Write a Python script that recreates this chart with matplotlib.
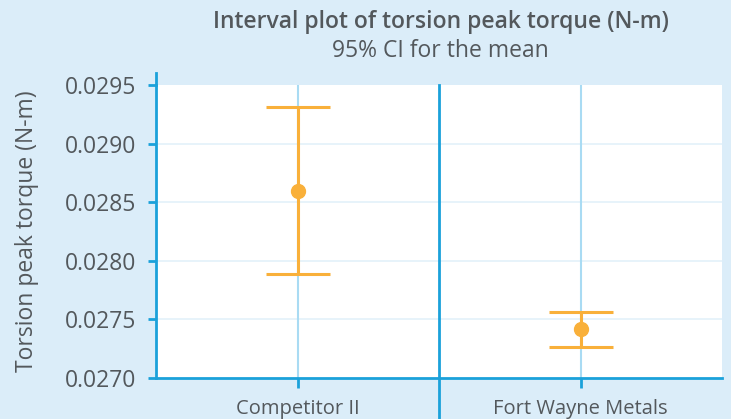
import numpy as np
import matplotlib.pyplot as plt

categories = ["Competitor II", "Fort Wayne Metals"]
means = [0.028596, 0.027418]
upper = [0.029312, 0.027563]
lower = [0.027887, 0.027265]
yticks = [0.0270, 0.0275, 0.0280, 0.0285, 0.0290, 0.0295]

bg = "#dbedf9"
spine = "#1ba1da"
orange = "#f9b03a"
text_col = "#53585c"

plt.rcParams['font.family'] = ['Open Sans', 'DejaVu Sans']

fig = plt.figure(figsize=(7.31, 4.19), dpi=100, facecolor=bg)
ax = fig.add_axes([156 / 731, 41 / 419, 566 / 731, 293 / 419])
ax.set_facecolor("white")

x = np.arange(len(categories))
m = np.array(means)
err = [m - np.array(lower), np.array(upper) - m]

# light grid
for yt in yticks[1:-1]:
    ax.axhline(yt, color="#e3f1fa", lw=1.2, zorder=0)
for xi in x:
    ax.axvline(xi, color="#a9dbf3", lw=1.5, zorder=0)

ax.errorbar(x, m, yerr=err, fmt="o", color=orange, ecolor=orange,
            elinewidth=2.2, capsize=23, capthick=2.2, markersize=10, zorder=3)

ax.set_xlim(-0.5, 1.5)
ax.set_ylim(0.0270, 0.0295)
ax.set_yticks(yticks)
ax.set_yticklabels([f"{v:.4f}" for v in yticks])
ax.set_xticks(x)
ax.set_xticklabels(categories)

for s in ["top", "right"]:
    ax.spines[s].set_visible(False)
for s in ["left", "bottom"]:
    ax.spines[s].set_color(spine)
    ax.spines[s].set_linewidth(2)

ax.tick_params(axis="y", colors=spine, length=6, width=2, labelsize=16.5,
               labelcolor=text_col, pad=8)
ax.tick_params(axis="x", colors=spine, length=7, width=2, labelsize=14.5,
               labelcolor=text_col, pad=8)

# spine extension above the plot and the group divider
ax.plot([-0.5, -0.5], [1.0, 1.04], transform=ax.get_xaxis_transform(),
        color=spine, lw=2, clip_on=False)
ax.plot([0.5, 0.5], [-0.15, 1.0], transform=ax.get_xaxis_transform(),
        color=spine, lw=2, clip_on=False, zorder=4)

ax.set_ylabel("Torsion peak torque (N-m)", fontsize=16.5, color=text_col,
              labelpad=19)

fig.text(0.603, 0.947, "Interval plot of torsion peak torque (N-m)", ha="center",
         va="center", fontsize=16.5, fontweight="semibold", color=text_col)
fig.text(0.603, 0.879, "95% CI for the mean", ha="center", va="center",
         fontsize=16.5, color=text_col)

fig.savefig("out.png", dpi=100, facecolor=bg)
